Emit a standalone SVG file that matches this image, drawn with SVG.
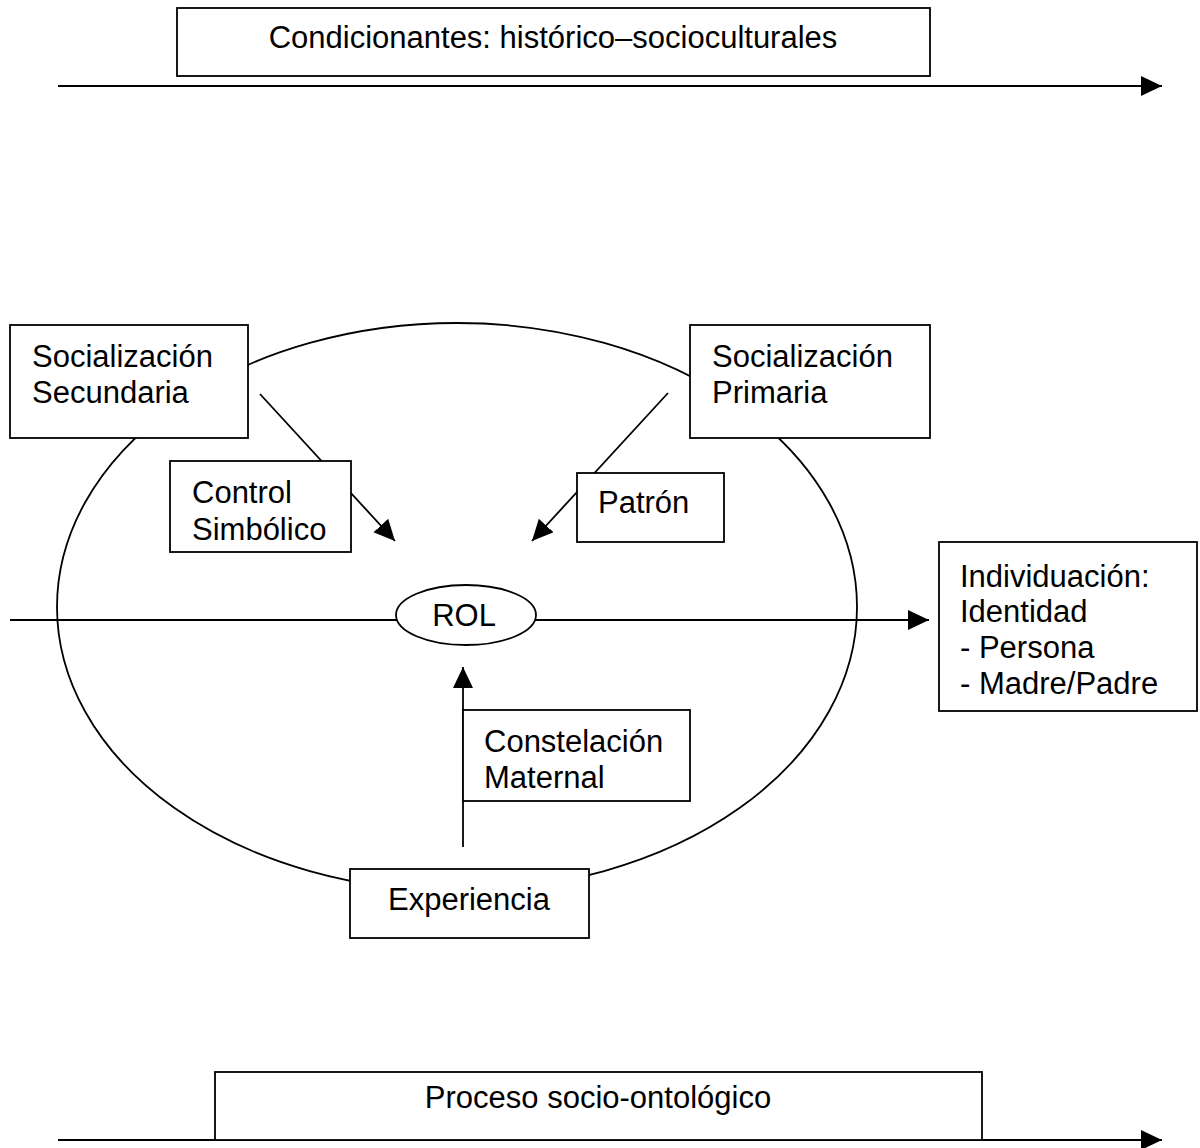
<svg xmlns="http://www.w3.org/2000/svg" width="1200" height="1148" viewBox="0 0 1200 1148">
<style>
.box{fill:#fff;stroke:#000;stroke-width:1.8}
.ln{fill:none;stroke:#000;stroke-width:1.8}
.t{font-family:"Liberation Sans",Arial,sans-serif;font-size:31px;fill:#000}
.tc{text-anchor:middle}
</style>
<defs>
<marker id="ah" markerUnits="userSpaceOnUse" markerWidth="24" markerHeight="22" refX="21" refY="10" orient="auto">
<path d="M0,0 L21,10 L0,20 Z" fill="#000"/>
</marker>
</defs>
<rect width="1200" height="1148" fill="#fff"/>
<g id="ciclo">
<ellipse class="ln" cx="457" cy="607" rx="400" ry="284"/>
</g>
<g id="connectors">
<line class="ln" x1="58" y1="86" x2="1162" y2="86" marker-end="url(#ah)"/>
<line class="ln" x1="58" y1="1140" x2="1162" y2="1140" marker-end="url(#ah)"/>
<line class="ln" x1="10" y1="620" x2="397" y2="620"/>
<line class="ln" x1="535" y1="620" x2="929" y2="620" marker-end="url(#ah)"/>
<line class="ln" x1="260" y1="394" x2="395" y2="541" marker-end="url(#ah)"/>
<line class="ln" x1="668" y1="393" x2="532" y2="541" marker-end="url(#ah)"/>
<line class="ln" x1="463" y1="847" x2="463" y2="667" marker-end="url(#ah)"/>
</g>
<g id="condicionantes">
<rect class="box" x="177" y="8" width="753" height="68"/>
<text class="t tc" x="553" y="48">Condicionantes: histórico–socioculturales</text>
</g>
<g id="proceso">
<rect class="box" x="215" y="1072" width="767" height="68"/>
<text class="t tc" x="598" y="1108">Proceso socio-ontológico</text>
</g>
<g id="soc-secundaria">
<rect class="box" x="10" y="325" width="238" height="113"/>
<text class="t" x="32" y="367">Socialización</text>
<text class="t" x="32" y="403">Secundaria</text>
</g>
<g id="soc-primaria">
<rect class="box" x="690" y="325" width="240" height="113"/>
<text class="t" x="712" y="367">Socialización</text>
<text class="t" x="712" y="403">Primaria</text>
</g>
<g id="control">
<rect class="box" x="170" y="461" width="181" height="91"/>
<text class="t" x="192" y="503">Control</text>
<text class="t" x="192" y="540">Simbólico</text>
</g>
<g id="patron">
<rect class="box" x="577" y="473" width="147" height="69"/>
<text class="t" x="598" y="513">Patrón</text>
</g>
<g id="rol">
<ellipse class="box" cx="466" cy="615" rx="70" ry="30"/>
<text class="t tc" x="464" y="626">ROL</text>
</g>
<g id="individuacion">
<rect class="box" x="939" y="542" width="258" height="169"/>
<text class="t" x="960" y="587">Individuación:</text>
<text class="t" x="960" y="622">Identidad</text>
<text class="t" x="960" y="658">- Persona</text>
<text class="t" x="960" y="694">- Madre/Padre</text>
</g>
<g id="constelacion">
<rect class="box" x="463" y="710" width="227" height="91"/>
<text class="t" x="484" y="752">Constelación</text>
<text class="t" x="484" y="788">Maternal</text>
</g>
<g id="experiencia">
<rect class="box" x="350" y="869" width="239" height="69"/>
<text class="t" x="388" y="910">Experiencia</text>
</g>
</svg>
